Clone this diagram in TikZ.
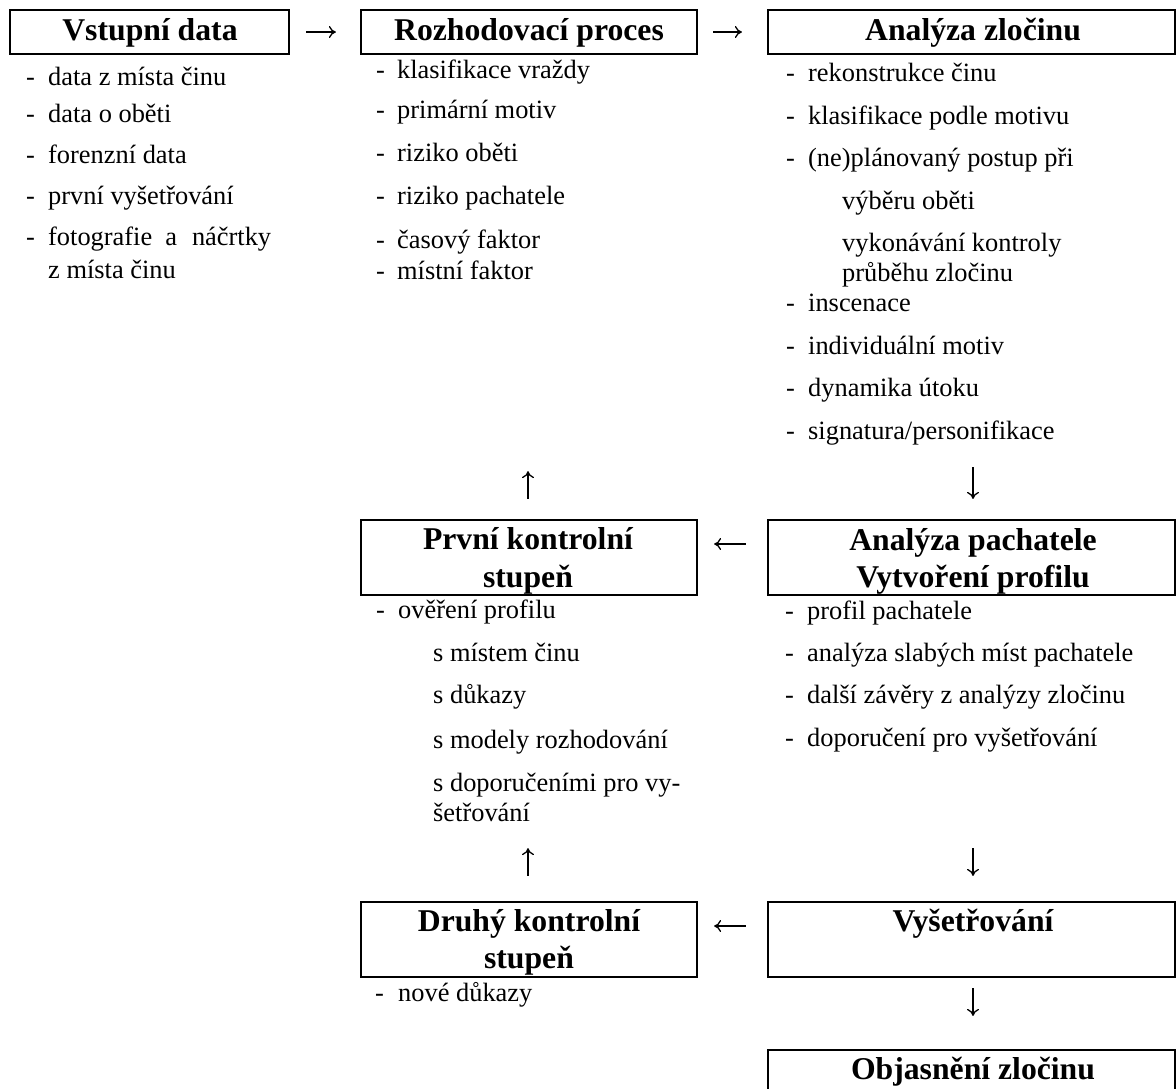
\documentclass[tikz,border=0pt]{standalone}
\usepackage{fontspec}
\setmainfont{Liberation Serif}
\usetikzlibrary{arrows.meta}
\newcommand\dashitem[5]{\node[txt] (#1d) at (#2,#4) {-};\node[txt] (#1) at (#3,#4) {#5};}
\newcommand\plainitem[4]{\node[txt] (#1) at (#2,#3) {#4};}
\begin{document}
\begin{tikzpicture}[x=1pt,y=-1pt,
  box/.style={draw=black,line width=2.2pt,rectangle,inner sep=0pt,fill=none},
  hdr/.style={font=\fontsize{31.7}{37}\selectfont\bfseries,inner sep=0pt,anchor=base},
  txt/.style={font=\fontsize{26.4}{30}\selectfont,inner sep=0pt,anchor=base west},
  arr/.style={line width=1.3pt,-{To[length=7pt,width=12pt]}}]
\useasboundingbox (0,0) rectangle (1176,1088);
\clip (0,0) rectangle (1176,1088);
\fill[white] (0,0) rectangle (1176,1088);
% boxes
\node[box,minimum width=279pt,minimum height=44pt] (b1) at (149.5,32) {};
\node[box,minimum width=336pt,minimum height=44pt] (b2) at (529,32) {};
\node[box,minimum width=407pt,minimum height=44pt] (b3) at (971.5,32) {};
\node[box,minimum width=336pt,minimum height=75pt] (b4) at (529,557.5) {};
\node[box,minimum width=407pt,minimum height=75pt] (b5) at (971.5,557.5) {};
\node[box,minimum width=336pt,minimum height=75pt] (b6) at (529,939.5) {};
\node[box,minimum width=407pt,minimum height=75pt] (b7) at (971.5,939.5) {};
\node[box,minimum width=407pt,minimum height=75pt] (b8) at (971.5,1087.5) {};
% headers
\node[hdr] (h1) at (150,40) {Vstupní data};
\node[hdr] (h2) at (529,40) {Rozhodovací proces};
\node[hdr] (h3) at (973,40) {Analýza zločinu};
\node[hdr] (h4a) at (528,549) {První kontrolní};
\node[hdr] (h4b) at (528,587) {stupeň};
\node[hdr] (h5a) at (973,550) {Analýza pachatele};
\node[hdr] (h5b) at (973,587) {Vytvoření profilu};
\node[hdr] (h6a) at (529,931) {Druhý kontrolní};
\node[hdr] (h6b) at (529,968) {stupeň};
\node[hdr] (h7) at (973,931) {Vyšetřování};
\node[hdr] (h8) at (973,1079) {Objasnění zločinu};
% left list
\dashitem{l1}{26}{48}{85}{data z místa činu}
\dashitem{l2}{26}{48}{122}{data o oběti}
\dashitem{l3}{26}{48}{163}{forenzní data}
\dashitem{l4}{26}{48}{204}{první vyšetřování}
\dashitem{l5}{26}{48}{245}{fotografie\hspace{13pt}a\hspace{15pt}náčrtky}
\plainitem{l6}{48}{278}{z místa činu}
% middle list
\dashitem{m1}{376}{397}{78}{klasifikace vraždy}
\dashitem{m2}{376}{397}{118}{primární motiv}
\dashitem{m3}{376}{397}{161}{riziko oběti}
\dashitem{m4}{376}{397}{204}{riziko pachatele}
\dashitem{m5}{376}{397}{248}{časový faktor}
\dashitem{m6}{376}{397}{279}{místní faktor}
% right list
\dashitem{r1}{786}{808}{81}{rekonstrukce činu}
\dashitem{r2}{786}{808}{124}{klasifikace podle motivu}
\dashitem{r3}{786}{808}{166}{(ne)plánovaný postup při}
\plainitem{r4}{842}{209}{výběru oběti}
\plainitem{r5}{842}{251}{vykonávání kontroly}
\plainitem{r6}{842}{281}{průběhu zločinu}
\dashitem{r7}{786}{808}{311}{inscenace}
\dashitem{r8}{786}{808}{354}{individuální motiv}
\dashitem{r9}{786}{808}{396}{dynamika útoku}
\dashitem{r10}{786}{808}{439}{signatura/personifikace}
% first control list
\dashitem{p1}{376}{398}{618}{ověření profilu}
\plainitem{p2}{433}{661}{s místem činu}
\plainitem{p3}{433}{703}{s důkazy}
\plainitem{p4}{433}{748}{s modely rozhodování}
\plainitem{p5}{433}{791}{s doporučeními pro vy-}
\plainitem{p6}{433}{821}{šetřování}
% offender analysis list
\dashitem{o1}{785}{807}{619}{profil pachatele}
\dashitem{o2}{785}{807}{661}{analýza slabých míst pachatele}
\dashitem{o3}{785}{807}{703}{další závěry z analýzy zločinu}
\dashitem{o4}{785}{807}{746}{doporučení pro vyšetřování}
% second control list
\dashitem{d1}{375}{398}{1001}{nové důkazy}
% arrows
\draw[arr,shorten <=16pt,shorten >=24pt] (b1.east) -- (b2.west);
\draw[arr,shorten <=15pt,shorten >=25pt] (b2.east) -- (b3.west);
\draw[arr,shorten <=412pt,shorten >=20pt] ([xshift=1.5pt]b3.south) -- ([xshift=1.5pt]b5.north);
\draw[arr,shorten <=21pt,shorten >=16pt] ([yshift=13.5pt]b5.west) -- ([yshift=13.5pt]b4.east);
\draw[arr,shorten <=20pt,shorten >=416pt] ([xshift=-1pt]b4.north) -- ([xshift=-1pt]b2.south);
\draw[arr,shorten <=252pt,shorten >=25pt] ([xshift=1.5pt]b5.south) -- ([xshift=1.5pt]b7.north);
\draw[arr,shorten <=21pt,shorten >=16pt] ([yshift=13.5pt]b7.west) -- ([yshift=13.5pt]b6.east);
\draw[arr,shorten <=25pt,shorten >=252pt] ([xshift=-1pt]b6.north) -- ([xshift=-1pt]b4.south);
\draw[arr,shorten <=10pt,shorten >=33pt] ([xshift=1.5pt]b7.south) -- ([xshift=1.5pt]b8.north);
\end{tikzpicture}
\end{document}
